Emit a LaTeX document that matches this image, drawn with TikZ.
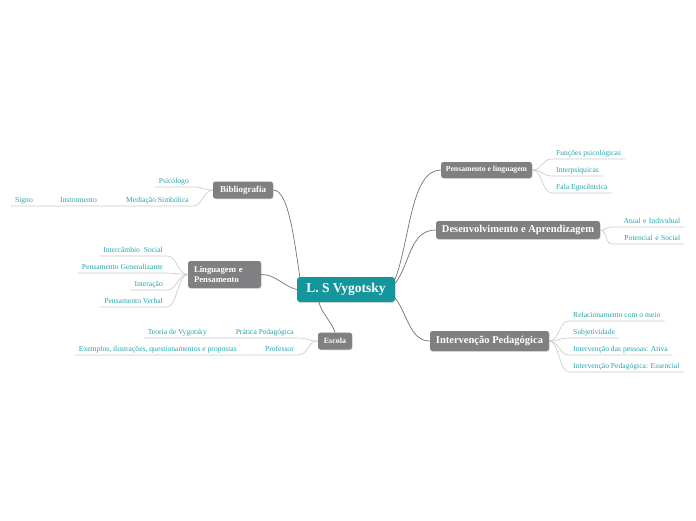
\documentclass[tikz,border=0pt]{standalone}
\usepackage{fontspec}
\setmainfont{Liberation Serif}
\usetikzlibrary{shadows}
\definecolor{mapteal}{RGB}{21,150,156}
\definecolor{mapgray}{RGB}{128,128,130}
\definecolor{leafteal}{RGB}{38,163,170}
\definecolor{lineg}{RGB}{200,200,200}
\definecolor{branchg}{RGB}{115,115,115}

\begin{document}
\begin{tikzpicture}[x=1pt,y=-1pt,
  topic/.style={rectangle,rounded corners=2.5pt,fill=mapgray,text=white,inner sep=0pt,drop shadow={opacity=0.25,shadow xshift=0.6pt,shadow yshift=-0.8pt}},
  leaf/.style={inner xsep=4pt,inner ysep=1.5pt,text height=5.2pt,text depth=1.7pt,text=leafteal,font=\fontsize{7.6}{8}\selectfont},
  underl/.style={draw=lineg,line width=0.6pt},
  branch/.style={draw=branchg,line width=0.7pt}]
\useasboundingbox (0,0) rectangle (696,520);

% central topic and main topics
\node[topic,fill=mapteal,rounded corners=3pt,minimum width=98pt,minimum height=25pt,font=\fontsize{13.5}{15}\selectfont\bfseries] (cen) at (346,289.5) {L. S Vygotsky};
\node[topic,minimum width=60pt,minimum height=17pt,font=\fontsize{9}{10}\selectfont\bfseries] (bib) at (243,190) {Bibliografia};
\node[topic,minimum height=27pt,text width=61pt,inner xsep=6pt,align=left,font=\fontsize{8.7}{10.5}\selectfont\bfseries] (ling) at (224.5,274.5) {Linguagem e\\Pensamento};
\node[topic,minimum width=34pt,minimum height=17pt,font=\fontsize{8}{9}\selectfont\bfseries] (esc) at (335,341) {Escola};
\node[topic,minimum width=91pt,minimum height=16pt,font=\fontsize{7.7}{9}\selectfont\bfseries] (pen) at (486.5,170) {Pensamento e linguagem};
\node[topic,minimum width=164pt,minimum height=18pt,font=\fontsize{10.5}{12}\selectfont\bfseries] (des) at (518,230) {Desenvolvimento e Aprendizagem};
\node[topic,minimum width=119pt,minimum height=20pt,font=\fontsize{10.5}{12}\selectfont\bfseries] (int) at (489.5,341) {Intervenção Pedagógica};

\draw[branch] (bib.east) .. controls +(15,0) and +(-6,-40) .. ([xshift=3pt]cen.north west);
\draw[branch] (ling.east) .. controls +(15,0) and +(-15,-4) .. (cen.west);
\draw[branch] (esc.north) .. controls +(-3,-10) and +(2,10) .. ([xshift=-27pt]cen.south);
\draw[branch] (cen.12) .. controls +(15,-40) and +(-30,0) .. (pen.west);
\draw[branch] (cen.7) .. controls +(15,-20) and +(-26,0) .. (des.west);
\draw[branch] (cen.-10) .. controls +(12,15) and +(-20,0) .. (int.west);

% Bibliografia
\node[leaf,anchor=south east] (psi) at (193,187) {Psicólogo};
\node[leaf,anchor=south east] (med) at (193,206) {Mediação Simbólica};
\node[leaf,anchor=south east] (ins) at (101,206) {Instrumento};
\node[leaf,anchor=south east] (sig) at (37,206) {Signo};
\draw[underl] (bib.west) .. controls +(-9,0) and +(9,0) .. (psi.south east) -- (psi.south west);
\draw[underl] (bib.west) .. controls +(-9,0) and +(9,0) .. (med.south east) -- (med.south west)
  -- (ins.south east) -- (ins.south west) -- (sig.south east) -- (sig.south west);

% Linguagem e Pensamento
\node[leaf,anchor=south east] (lg1) at (167,256) {Intercâmbio\ \ Social};
\node[leaf,anchor=south east] (lg2) at (167,273) {Pensamento Generalizante};
\node[leaf,anchor=south east] (lg3) at (167,290) {Interação};
\node[leaf,anchor=south east] (lg4) at (167,307) {Pensamento Verbal};
\foreach \n in {lg1,lg2,lg3,lg4}
  \draw[underl] (ling.west) .. controls +(-10,0) and +(10,0) .. (\n.south east) -- (\n.south west);

% Escola
\node[leaf,anchor=south east] (pra) at (298,338) {Prática Pedagógica};
\node[leaf,anchor=south east] (teo) at (211,338) {Teoria de Vygotsky};
\node[leaf,anchor=south east] (pro) at (298,355) {Professor};
\node[leaf,anchor=south east] (exe) at (241,355) {Exemplos, ilustrações, questionamentos e propostas};
\draw[underl] (esc.west) .. controls +(-10,0) and +(10,0) .. (pra.south east) -- (pra.south west) -- (teo.south east) -- (teo.south west);
\draw[underl] (esc.west) .. controls +(-10,0) and +(10,0) .. (pro.south east) -- (pro.south west) -- (exe.south east) -- (exe.south west);

% Pensamento e linguagem
\node[leaf,anchor=south west] (pl1) at (552,159) {Funções psicológicas};
\node[leaf,anchor=south west] (pl2) at (552,176) {Interpsiquicas};
\node[leaf,anchor=south west] (pl3) at (552,193) {Fala Egocêntrica};
\foreach \n in {pl1,pl2,pl3}
  \draw[underl] (pen.east) .. controls +(10,0) and +(-10,0) .. (\n.south west) -- (\n.south east);

% Desenvolvimento e Aprendizagem
\node[leaf,anchor=south west,text width=64pt,align=right] (da1) at (612,227) {Atual e Individual};
\node[leaf,anchor=south west,text width=64pt,align=right] (da2) at (612,244) {Potencial e Social};
\foreach \n in {da1,da2}
  \draw[underl] (des.east) .. controls +(7,0) and +(-7,0) .. (\n.south west) -- (\n.south east);

% Intervencao Pedagogica
\node[leaf,anchor=south west] (ip1) at (569,321) {Relacionamento com o meio};
\node[leaf,anchor=south west] (ip2) at (569,338) {Subjetividade};
\node[leaf,anchor=south west] (ip3) at (569,355) {Intervenção das pessoas: Ativa};
\node[leaf,anchor=south west] (ip4) at (569,372) {Intervenção Pedagógica: Essencial};
\foreach \n in {ip1,ip2,ip3,ip4}
  \draw[underl] (int.east) .. controls +(10,0) and +(-10,0) .. (\n.south west) -- (\n.south east);

\end{tikzpicture}
\end{document}
